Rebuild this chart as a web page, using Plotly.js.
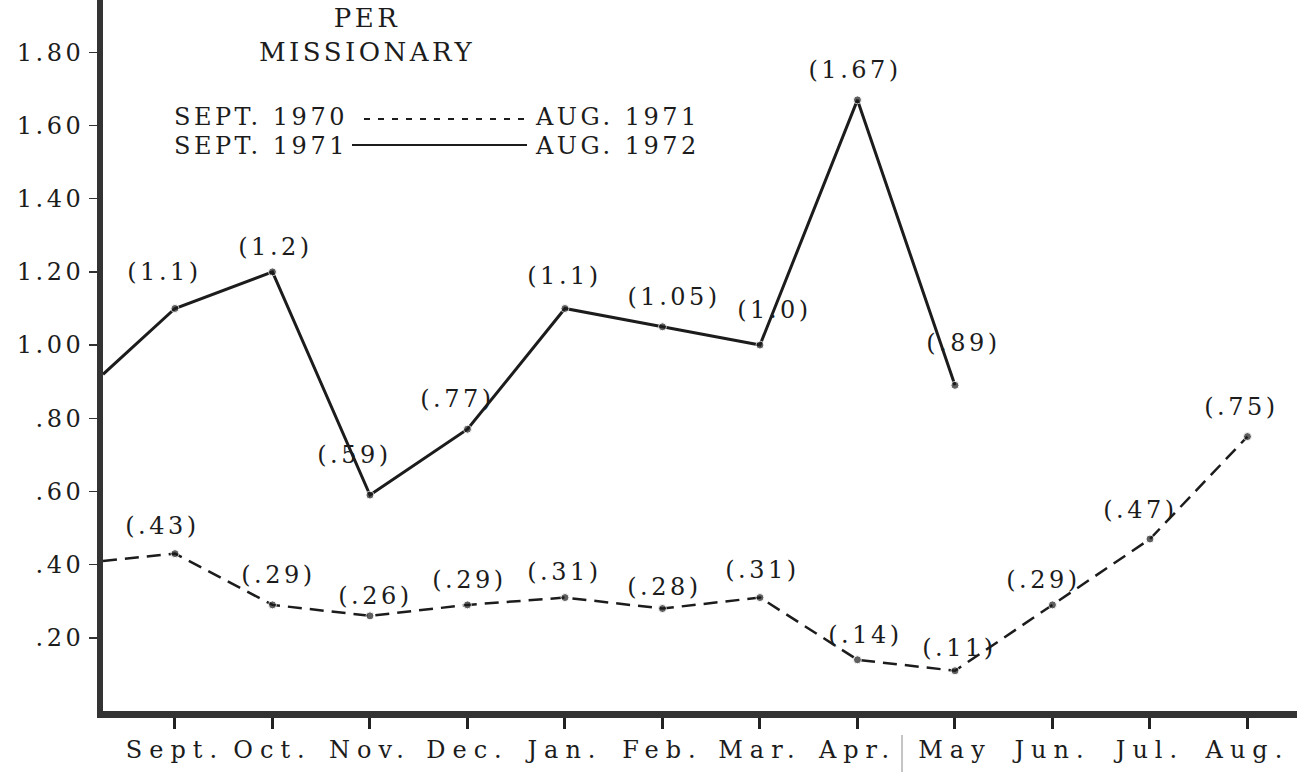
<!DOCTYPE html>
<html>
<head>
<meta charset="utf-8">
<script src="https://cdn.plot.ly/plotly-3.0.1.min.js"></script>
<style>
  html, body { margin: 0; padding: 0; background: #ffffff; }
  #chart { width: 1305px; height: 774px; }
  .main-svg text { letter-spacing: 3.5px; }
  .xtick text { letter-spacing: 7px !important; }
</style>
</head>
<body>
<div id="chart"></div>
<script>
// ---- data ----
const months = ['Sept.', 'Oct.', 'Nov.', 'Dec.', 'Jan.', 'Feb.', 'Mar.', 'Apr.', 'May', 'Jun.', 'Jul.', 'Aug.'];
// Sept. 1971 - Aug. 1972 (solid), values through May
const perMissionary7172 = [1.1, 1.2, 0.59, 0.77, 1.1, 1.05, 1.0, 1.67, 0.89];
// Sept. 1970 - Aug. 1971 (dashed)
const perMissionary7071 = [0.43, 0.29, 0.26, 0.29, 0.31, 0.28, 0.31, 0.14, 0.11, 0.29, 0.47, 0.75];
// values where each line enters at the vertical axis (previous August)
const lead7172 = 0.92;
const lead7071 = 0.41;
const yTickVals = [0.2, 0.4, 0.6, 0.8, 1.0, 1.2, 1.4, 1.6, 1.8];
const yTickText = ['.20', '.40', '.60', '.80', '1.00', '1.20', '1.40', '1.60', '1.80'];
const legendRows = [
  ['SEPT. 1970', 'AUG. 1971'],
  ['SEPT. 1971', 'AUG. 1972']
];
const titleText = 'PER<br>MISSIONARY';

// ---- styling / placement (not data) ----
const FONT = '"DejaVu Serif", "Liberation Serif", serif';
const INK = '#1c1c1c';
const X0 = -0.738, X1 = 11.508;
const Y1 = 1.943;
const L = 103, R = 8, T = 0, B = 63, W = 1305, H = 774;
const plotW = W - L - R, plotH = H - T - B;
const px = x => (x - L) / plotW;
const py = y => (H - B - y) / plotH;

// label offsets in pixels [dx, dy(up)]
const shift7172 = [[-12, 36], [1, 25], [-17, 40], [-12, 30], [-2, 32], [10, 30], [13, 35], [-4, 30], [7, 42]];
const shift7071 = [[-14, 28], [4, 30], [4, 20], [0, 25], [-2, 26], [0, 22], [1, 28], [6, 25], [3, 23], [-11, 25], [-11, 29], [-8, 30]];

function fmt(v) {
  if (v < 1) return String(v).replace(/^0/, '');
  if (Number.isInteger(v)) return v.toFixed(1);
  return String(v);
}

const idx = arr => arr.map((_, i) => i);

const traceSolid = {
  x: [X0].concat(idx(perMissionary7172)),
  y: [lead7172].concat(perMissionary7172),
  mode: 'lines+markers',
  line: { color: INK, width: 3 },
  marker: { color: INK, size: [0].concat(perMissionary7172.map(() => 8)) },
  showlegend: false, hoverinfo: 'skip', cliponaxis: false
};
const traceDashed = {
  x: [X0].concat(idx(perMissionary7071)),
  y: [lead7071].concat(perMissionary7071),
  mode: 'lines+markers',
  line: { color: INK, width: 2.5, dash: '14px,8px' },
  marker: { color: INK, size: [0].concat(perMissionary7071.map(() => 8)) },
  showlegend: false, hoverinfo: 'skip', cliponaxis: false
};

const annotations = [];
perMissionary7172.forEach((v, i) => {
  annotations.push({
    x: i, y: v, xref: 'x', yref: 'y', text: '(' + fmt(v) + ')', showarrow: false,
    xshift: shift7172[i][0] + 2, yshift: shift7172[i][1],
    xanchor: 'center', yanchor: 'middle',
    font: { family: FONT, size: 24, color: INK }
  });
});
perMissionary7071.forEach((v, i) => {
  annotations.push({
    x: i, y: v, xref: 'x', yref: 'y', text: '(' + fmt(v) + ')', showarrow: false,
    xshift: shift7071[i][0] + 2, yshift: shift7071[i][1],
    xanchor: 'center', yanchor: 'middle',
    font: { family: FONT, size: 24, color: INK }
  });
});
// legend texts
const legendY = [117, 146];
legendRows.forEach((row, r) => {
  annotations.push({
    xref: 'paper', yref: 'paper', x: px(172), y: py(legendY[r]), text: row[0], showarrow: false,
    xanchor: 'left', yanchor: 'middle', align: 'left', font: { family: FONT, size: 24, color: INK }
  });
  annotations.push({
    xref: 'paper', yref: 'paper', x: px(533), y: py(legendY[r]), text: row[1], showarrow: false,
    xanchor: 'left', yanchor: 'middle', align: 'left', font: { family: FONT, size: 24, color: INK }
  });
});

const shapes = [
  { type: 'line', xref: 'paper', yref: 'paper', x0: px(364), x1: px(527), y0: py(119), y1: py(119),
    line: { color: INK, width: 2, dash: '6px,8px' } },
  { type: 'line', xref: 'paper', yref: 'paper', x0: px(352), x1: px(527), y0: py(145), y1: py(145),
    line: { color: INK, width: 2 } },
  { type: 'line', xref: 'paper', yref: 'paper', x0: px(902), x1: px(902), y0: py(735), y1: py(772),
    line: { color: '#8a8a8a', width: 1 } }
];

const layout = {
  width: W, height: H,
  margin: { l: L, r: R, t: T, b: B, pad: 0 },
  paper_bgcolor: '#ffffff', plot_bgcolor: '#ffffff',
  showlegend: false,
  title: {
    text: titleText, xref: 'container', yref: 'container',
    x: 367 / W, xanchor: 'center', y: 1 - 27 / H, yanchor: 'top',
    font: { family: FONT, size: 26, color: INK }
  },
  xaxis: {
    range: [X0, X1], tickvals: idx(months), ticktext: months,
    showgrid: false, zeroline: false,
    showline: true, linecolor: '#333333', linewidth: 7,
    ticks: 'outside', ticklen: 11, tickwidth: 3, tickcolor: '#222222',
    tickfont: { family: FONT, size: 24, color: INK },
    fixedrange: true
  },
  yaxis: {
    range: [0, Y1], tickvals: yTickVals, ticktext: yTickText,
    showgrid: false, zeroline: false,
    showline: true, linecolor: '#333333', linewidth: 6,
    ticks: 'outside', ticklen: 8, tickwidth: 1.5, tickcolor: '#333333',
    tickfont: { family: FONT, size: 24, color: INK },
    fixedrange: true
  },
  annotations: annotations,
  shapes: shapes
};

Plotly.newPlot('chart', [traceDashed, traceSolid], layout, { staticPlot: true, displayModeBar: false });
</script>
</body>
</html>
